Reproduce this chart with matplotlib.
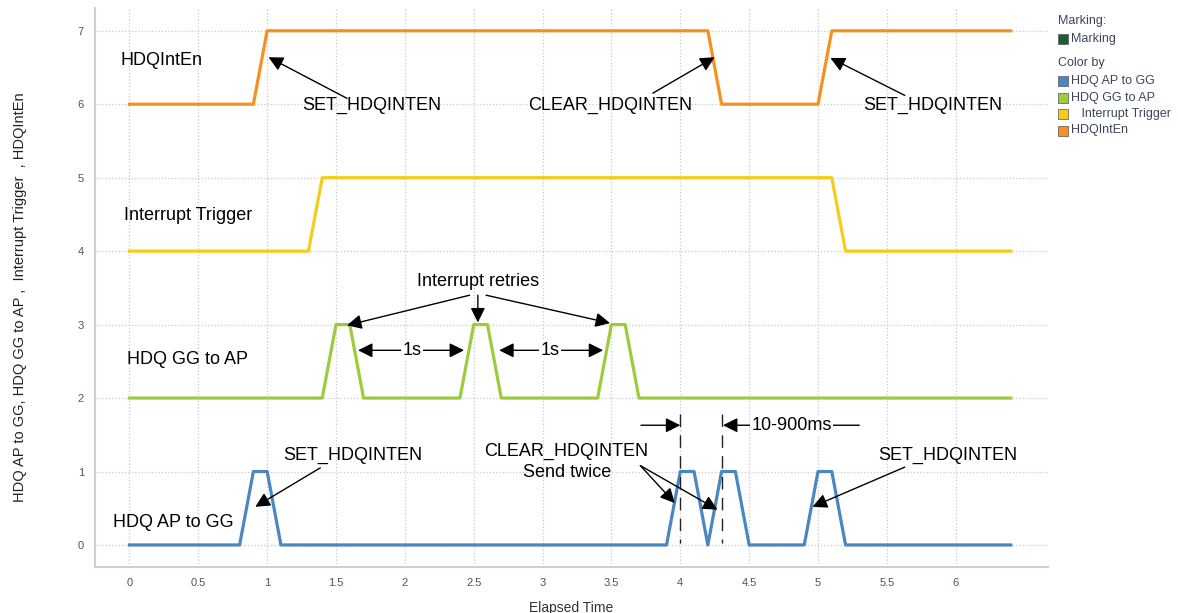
import matplotlib.pyplot as plt
from matplotlib.patches import Rectangle

plt.rcParams['font.family'] = ['Liberation Sans', 'DejaVu Sans']

# Señales (tiempo, nivel)
t_inten = [0, 0.9, 1.0, 4.2, 4.3, 5.0, 5.1, 6.4]
v_inten = [6, 6, 7, 7, 6, 6, 7, 7]

t_trig = [0, 1.3, 1.4, 5.1, 5.2, 6.4]
v_trig = [4, 4, 5, 5, 4, 4]

t_gg = [0, 1.4, 1.5, 1.6, 1.7, 2.4, 2.5, 2.6, 2.7, 3.4, 3.5, 3.6, 3.7, 6.4]
v_gg = [2, 2, 3, 3, 2, 2, 3, 3, 2, 2, 3, 3, 2, 2]

t_ap = [0, 0.8, 0.9, 1.0, 1.1, 3.9, 4.0, 4.1, 4.2, 4.3, 4.4, 4.5, 4.9, 5.0, 5.1, 5.2, 6.4]
v_ap = [0, 0, 1, 1, 0, 0, 1, 1, 0, 1, 1, 0, 0, 1, 1, 0, 0]

xticks = [0, 0.5, 1, 1.5, 2, 2.5, 3, 3.5, 4, 4.5, 5, 5.5, 6]
xticklabels = ['0', '0.5', '1', '1.5', '2', '2.5', '3', '3.5', '4', '4.5', '5', '5.5', '6']
yticks = [0, 1, 2, 3, 4, 5, 6, 7]

c_ap = '#4a86c0'
c_gg = '#9ccc3c'
c_trig = '#f5cc1a'
c_inten = '#f7901e'
c_mark = '#1e5b35'

fig = plt.figure(figsize=(11.78, 6.13), dpi=100)
ax = fig.add_axes([95 / 1178, 46 / 613, (1048 - 95) / 1178, (567 - 8) / 613])

lw = 2.3
ax.plot(t_ap, v_ap, color=c_ap, lw=lw)
ax.plot(t_gg, v_gg, color=c_gg, lw=lw)
ax.plot(t_trig, v_trig, color=c_trig, lw=lw)
ax.plot(t_inten, v_inten, color=c_inten, lw=lw)

ax.set_xlim(-0.25, 6.67)
ax.set_ylim(-0.3, 7.31)
ax.set_xticks(xticks)
ax.set_xticklabels(xticklabels)
ax.set_yticks(yticks)
ax.tick_params(length=0, labelsize=8, labelcolor='#4a5468', pad=8)
ax.grid(True, linestyle=':', color='#c8c8c8', lw=0.9)
ax.set_axisbelow(True)
for s in ['top', 'right']:
    ax.spines[s].set_visible(False)
for s in ['left', 'bottom']:
    ax.spines[s].set_color('#d0d0d0')
    ax.spines[s].set_linewidth(1.5)

ax.set_xlabel('Elapsed Time', fontsize=10, color='#333333', labelpad=9)
fig.text(20 / 1178, 1 - 297 / 613, 'HDQ AP to GG, HDQ GG to AP ,  Interrupt Trigger  , HDQIntEn',
         rotation=90, fontsize=10.5, color='#222222', ha='center', va='center')

fs = 13
# Nombres de las señales
ax.text(-0.065, 6.6, 'HDQIntEn', fontsize=fs, va='center')
ax.text(-0.04, 4.49, 'Interrupt Trigger', fontsize=fs, va='center')
ax.text(-0.015, 2.52, 'HDQ GG to AP', fontsize=fs, va='center')
ax.text(-0.12, 0.31, 'HDQ AP to GG', fontsize=fs, va='center')

arrow = dict(arrowstyle='-|>', color='black', lw=1, mutation_scale=22, shrinkA=0, shrinkB=0)
dbl = dict(arrowstyle='<|-|>', color='black', lw=1, mutation_scale=22, shrinkA=0, shrinkB=0)

def flecha(tail, tip, props=arrow):
    ax.annotate('', xy=tip, xytext=tail, arrowprops=props)

# HDQIntEn
ax.text(1.76, 5.99, 'SET_HDQINTEN', fontsize=fs, ha='center', va='center')
flecha((1.58, 6.08), (1.01, 6.64))
ax.text(3.49, 5.99, 'CLEAR_HDQINTEN', fontsize=fs, ha='center', va='center')
flecha((3.80, 6.15), (4.25, 6.64))
ax.text(5.83, 5.99, 'SET_HDQINTEN', fontsize=fs, ha='center', va='center')
flecha((5.63, 6.12), (5.09, 6.63))

# Reintentos
ax.text(2.53, 3.58, 'Interrupt retries', fontsize=fs, ha='center', va='center')
flecha((2.47, 3.40), (1.58, 2.99))
flecha((2.53, 3.40), (2.53, 3.03))
flecha((2.59, 3.40), (3.49, 3.02))

flecha((1.66, 2.65), (2.43, 2.65), dbl)
ax.text(2.05, 2.65, '1s', fontsize=fs, ha='center', va='center',
        bbox=dict(facecolor='white', edgecolor='none', pad=1))
flecha((2.685, 2.65), (3.44, 2.65), dbl)
ax.text(3.055, 2.65, '1s', fontsize=fs, ha='center', va='center',
        bbox=dict(facecolor='white', edgecolor='none', pad=1))

# HDQ AP to GG
ax.text(1.62, 1.22, 'SET_HDQINTEN', fontsize=fs, ha='center', va='center')
flecha((1.386, 1.05), (0.914, 0.52))
ax.text(3.17, 1.27, 'CLEAR_HDQINTEN', fontsize=fs, ha='center', va='center')
ax.text(3.18, 0.99, 'Send twice', fontsize=fs, ha='center', va='center')
flecha((3.71, 1.08), (3.96, 0.57))
flecha((3.71, 1.08), (4.27, 0.48))
ax.text(5.94, 1.22, 'SET_HDQINTEN', fontsize=fs, ha='center', va='center')
flecha((5.63, 1.06), (4.96, 0.52))

for xd in [4.0, 4.3]:
    ax.plot([xd, xd], [1.78, 0.03], color='#222222', lw=1, dashes=(9, 6))
flecha((3.715, 1.63), (4.0, 1.63))
flecha((5.30, 1.63), (4.31, 1.63))
ax.text(4.81, 1.63, '10-900ms', fontsize=fs, ha='center', va='center',
        bbox=dict(facecolor='white', edgecolor='none', pad=1))

# Leyenda
W, H = 1178, 613
lc = '#3c465a'
lfs = 9
def cuadro(y, color):
    fig.patches.append(Rectangle((1058 / W, 1 - (y + 5) / H), 10 / W, 10 / H,
                                 transform=fig.transFigure, facecolor=color,
                                 edgecolor='#555555', lw=0.5))

fig.text(1058 / W, 1 - 21 / H, 'Marking:', fontsize=lfs, color=lc, va='center')
cuadro(39, c_mark)
fig.text(1071 / W, 1 - 39 / H, 'Marking', fontsize=lfs, color=lc, va='center')
fig.text(1058 / W, 1 - 63 / H, 'Color by', fontsize=lfs, color=lc, va='center')
entradas = [('HDQ AP to GG', c_ap), ('HDQ GG to AP', c_gg),
            ('   Interrupt Trigger', c_trig), ('HDQIntEn', c_inten)]
for i, (nombre, col) in enumerate(entradas):
    yy = 81 + i * 16.5
    cuadro(yy, col)
    fig.text(1071 / W, 1 - yy / H, nombre, fontsize=lfs, color=lc, va='center')

fig.savefig('out.png', dpi=100)
